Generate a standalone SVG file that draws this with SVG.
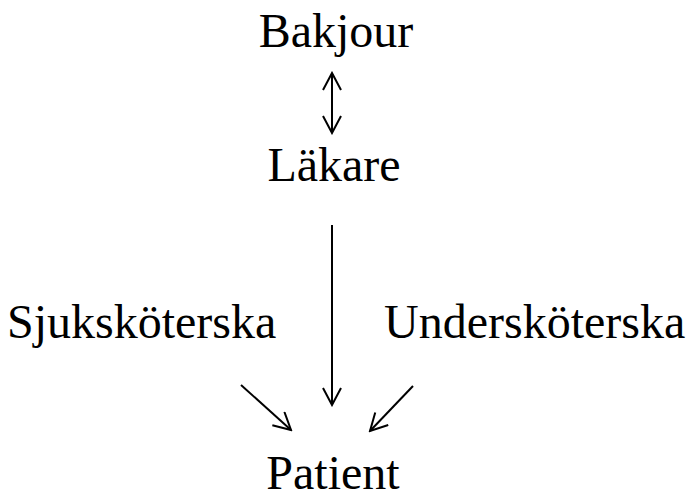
<svg xmlns="http://www.w3.org/2000/svg" width="689" height="494" viewBox="0 0 689 494">
  <style>
    .lbl { font-family: "Liberation Serif", "Times New Roman", serif; font-size: 48px; fill: #000; }
    .edge { stroke: #000; stroke-width: 2; fill: none; }
  </style>
  <defs>
    <marker id="head" viewBox="0 0 20 20" refX="18" refY="10" markerWidth="20" markerHeight="20" markerUnits="userSpaceOnUse" orient="auto-start-reverse">
      <path d="M1,1 L18,10 L1,19" fill="none" stroke="#000" stroke-width="2"/>
    </marker>
  </defs>
  <rect width="689" height="494" fill="#fff"/>
  <g id="bakjour"><text class="lbl" x="336" y="47" text-anchor="middle">Bakjour</text></g>
  <g id="lakare"><text class="lbl" x="334" y="181" text-anchor="middle">Läkare</text></g>
  <g id="sjukskoterska"><text class="lbl" x="7" y="338">Sjuksköterska</text></g>
  <g id="underskoterska"><text class="lbl" x="384" y="338">Undersköterska</text></g>
  <g id="patient"><text class="lbl" x="333" y="489" text-anchor="middle">Patient</text></g>
  <g id="connectors">
    <line class="edge" x1="332" y1="73" x2="332" y2="133" marker-start="url(#head)" marker-end="url(#head)"/>
    <line class="edge" x1="332" y1="225" x2="332" y2="405" marker-end="url(#head)"/>
    <line class="edge" x1="241" y1="385" x2="291" y2="430" marker-end="url(#head)"/>
    <line class="edge" x1="413" y1="386" x2="370" y2="431" marker-end="url(#head)"/>
  </g>
</svg>
